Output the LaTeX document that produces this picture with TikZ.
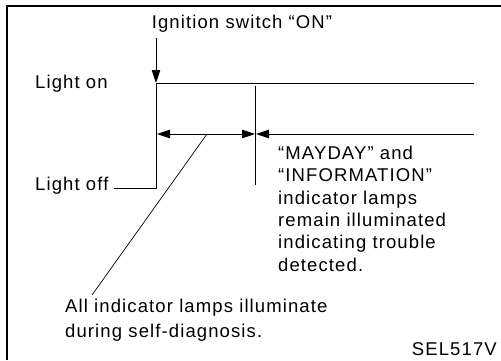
\documentclass[tikz,border=0pt]{standalone}
\usepackage{fontspec}
\setmainfont[LetterSpace=6]{Liberation Sans}
\usetikzlibrary{arrows.meta}
\begin{document}
\begin{tikzpicture}[x=1pt,y=-1pt,
  lbl/.style={inner sep=0pt,font=\fontsize{18.5}{22.3}\selectfont},
  ln/.style={line width=0.9pt},
  tri/.tip={Triangle[length=13pt,width=8.5pt]},
  tip/.style={-tri},
]
\useasboundingbox (0,0) rectangle (501,360);
% frame
\draw[line width=1.3pt] (7,360) -- (7,6) -- (501,6);
% coordinates
\coordinate (arrtop) at (156,38);
\coordinate (on0) at (156,83);
\coordinate (on1) at (474,83);
\coordinate (off0) at (156,188);
\coordinate (offl) at (114,188);
\coordinate (mid0) at (255,86);
\coordinate (mid1) at (255,185);
\coordinate (a0) at (157,134);
\coordinate (a1) at (255,134);
\coordinate (b0) at (256,134);
\coordinate (b1) at (474,134);
\coordinate (lead0) at (207,134);
\coordinate (lead1) at (92,295);
% texts
\node[lbl,anchor=base] (ign) at (242,28) {Ignition switch “ON”};
\node[lbl,anchor=base west] (lon) at (35,88) {Light on};
\node[lbl,anchor=base west] (loff) at (35,190) {Light off};
\node[lbl,anchor=north west,align=left] (rtxt) at (278,146) {“MAYDAY” and\\“INFORMATION”\\indicator lamps\\remain illuminated\\indicating trouble\\detected.};
\node[lbl,anchor=base west,align=left,font=\fontsize{18.5}{25}\selectfont] (btxt) at (65,337) {All indicator lamps illuminate\\during self-diagnosis.};
\node[lbl,anchor=base east] (sel) at (497,355) {SEL517V};
% lines
\draw[ln,tip] (arrtop) -- (on0);
\draw[ln] (offl) -- (off0) -- (on0) -- (on1);
\draw[ln] (mid0) -- (mid1);
\draw[ln,tri-tri] (a0) -- (a1);
\draw[ln,tri-] (b0) -- (b1);
\draw[line width=0.7pt] (lead0) -- (lead1);
\end{tikzpicture}
\end{document}
